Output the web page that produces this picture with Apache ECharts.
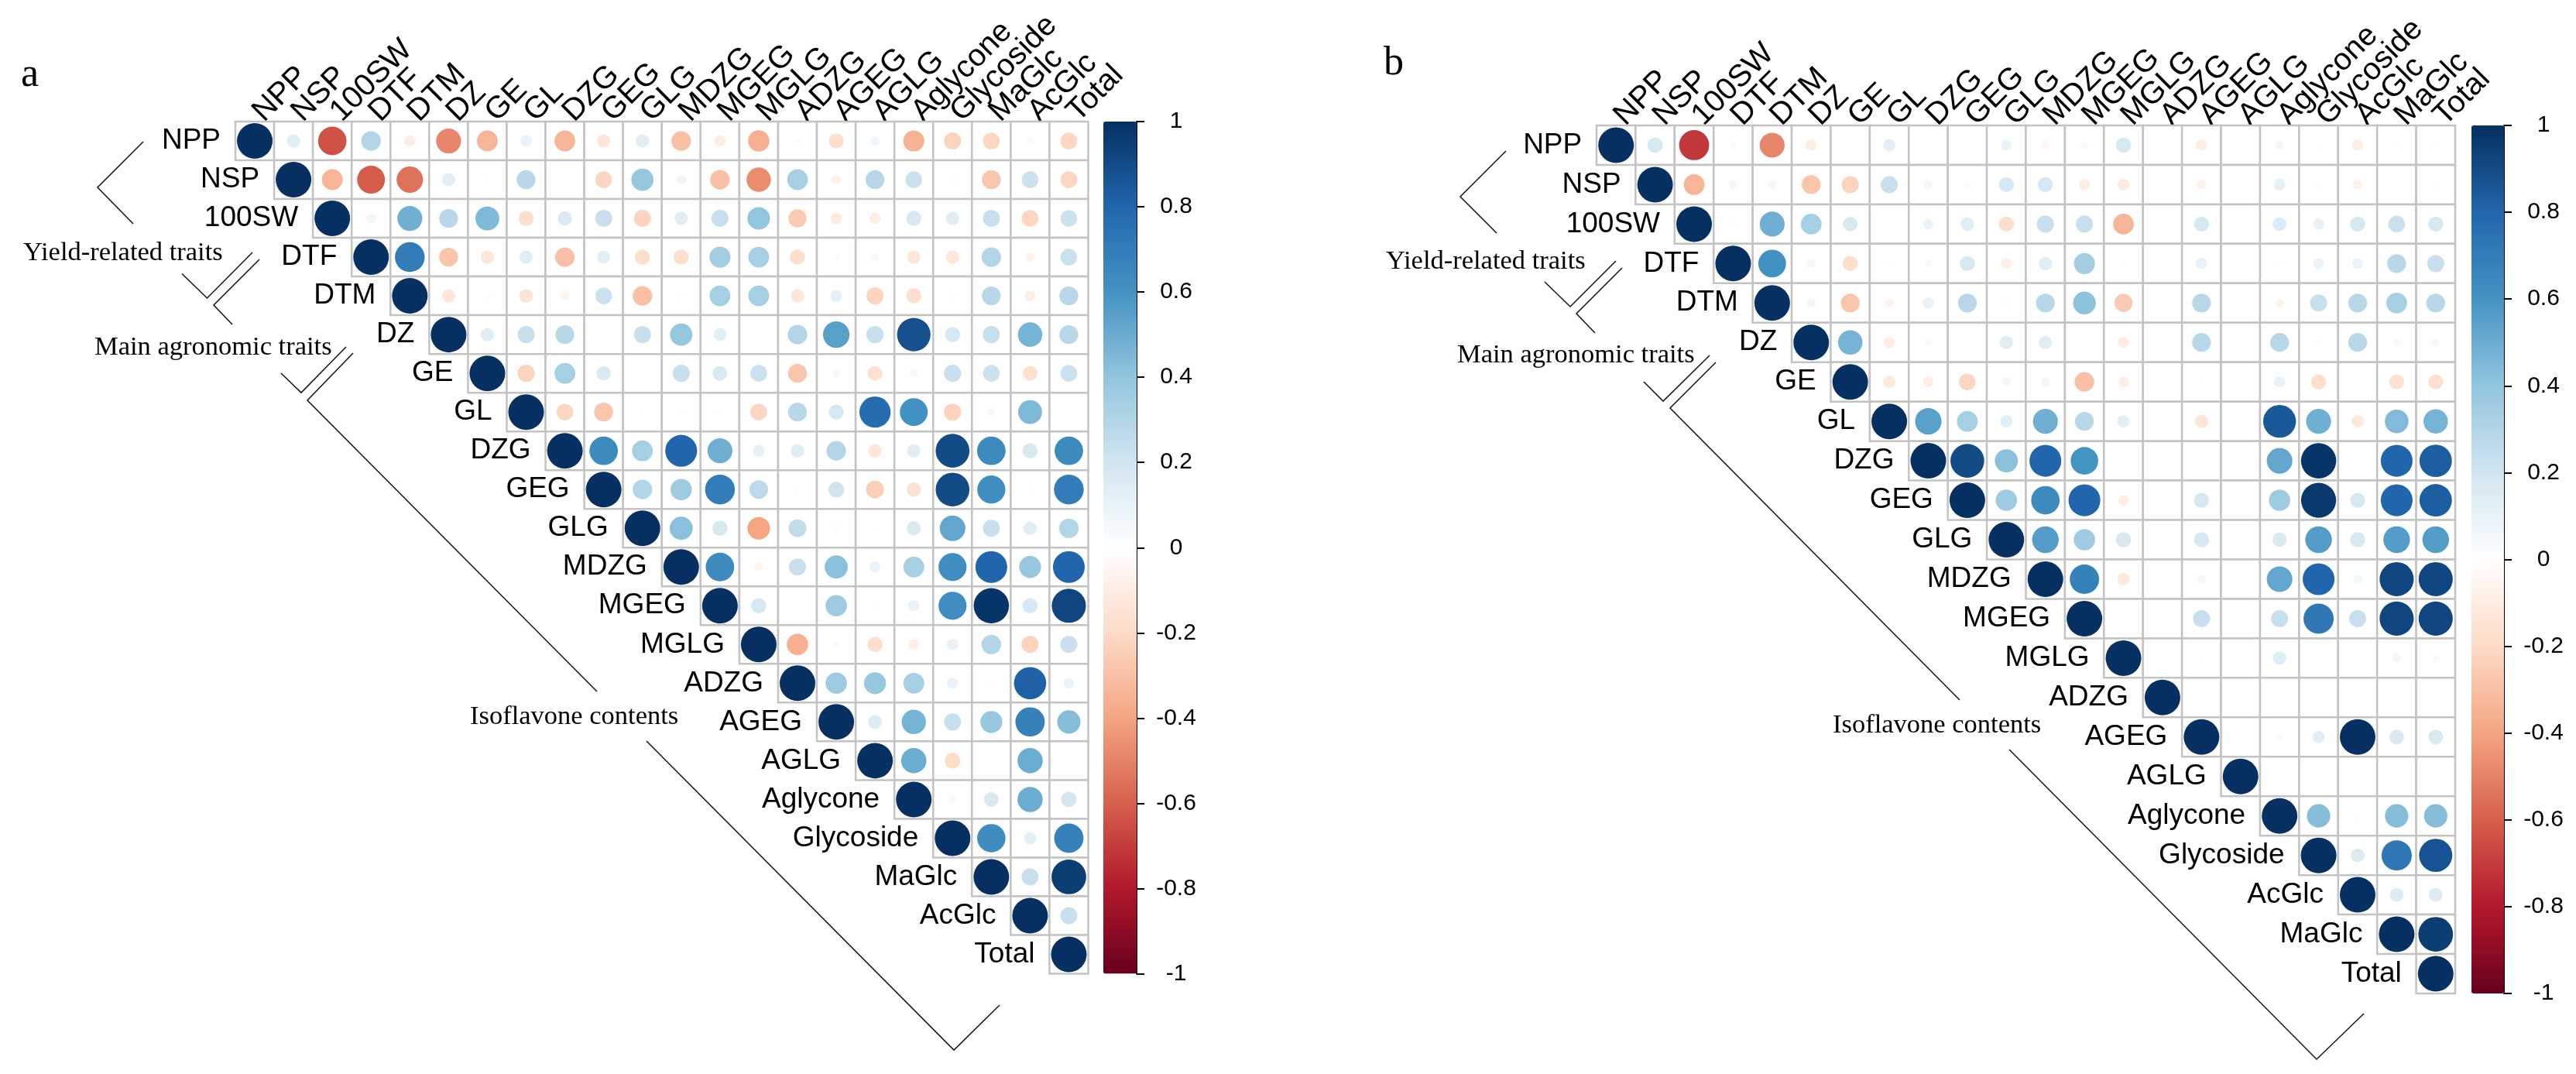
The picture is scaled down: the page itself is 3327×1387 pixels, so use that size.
<!DOCTYPE html>
<html>
<head>
<meta charset="utf-8">
<title>Correlation matrices</title>
<style>html,body{margin:0;padding:0;background:#fff}#chart{width:3327px;height:1387px}</style>
<script src="https://cdn.jsdelivr.net/npm/echarts@6/dist/echarts.min.js"></script>
</head>
<body>
<div id="chart"></div>
<script>
const categoriesA = ['NPP','NSP','100SW','DTF','DTM','DZ','GE','GL','DZG','GEG','GLG','MDZG','MGEG','MGLG','ADZG','AGEG','AGLG','Aglycone','Glycoside','MaGlc','AcGlc','Total'];
const categoriesB = ['NPP','NSP','100SW','DTF','DTM','DZ','GE','GL','DZG','GEG','GLG','MDZG','MGEG','MGLG','ADZG','AGEG','AGLG','Aglycone','Glycoside','AcGlc','MaGlc','Total'];
const colorTicks = [-1,-0.8,-0.6,-0.4,-0.2,0,0.2,0.4,0.6,0.8,1];

// Upper triangle, each row starts at its diagonal cell.
const valuesA = [
 [1,.14,-.64,.30,-.10,-.49,-.34,.10,-.34,-.14,.14,-.30,-.10,-.36,.02,-.18,.07,-.35,-.23,-.22,-.04,-.22],
 [1,-.34,-.61,-.55,.13,-.01,.28,0,-.22,.39,.07,-.30,-.47,.34,-.07,.28,.22,-.01,-.28,.22,-.22],
 [1,.07,.49,.28,.45,-.18,.16,.23,-.23,.14,.23,.40,-.26,-.11,-.10,.18,.14,.23,-.22,.22],
 [1,.70,-.28,-.14,.14,-.30,.13,-.18,-.18,.35,.34,-.18,.03,.05,-.14,-.14,.30,-.07,.22],
 [1,-.14,-.02,-.15,-.06,.22,-.30,-.01,.34,.34,-.14,.11,-.23,-.18,-.01,.28,-.09,.28],
 [1,.14,.23,.28,0,.23,.39,.13,0,.30,.55,.23,.88,.18,.23,.47,.28],
 [1,-.23,.34,.16,.01,.23,.17,.22,-.28,.04,-.17,.05,.23,.22,-.17,.22],
 [1,-.22,-.28,-.01,.01,-.01,-.22,.28,.18,.77,.61,-.23,-.04,.45,.01],
 [1,.64,.34,.80,.49,.11,.14,.30,-.14,.14,.90,.64,.18,.64],
 [1,.30,.36,.70,.27,.01,.20,-.25,-.16,.90,.62,.01,.70],
 [1,.42,.18,-.40,.25,.02,.01,.16,.52,.23,.14,.30],
 [1,.64,-.06,.23,.42,.09,.34,.62,.80,.38,.80],
 [1,.18,.01,.36,-.01,.10,.62,.98,.18,.92],
 [1,-.36,.04,-.18,-.09,.10,.30,-.23,.23],
 [1,.36,.38,.34,.10,.01,.82,.09],
 [1,.15,.47,.23,.38,.68,.43],
 [1,.50,-.19,0,.50,0],
 [1,.04,.17,.50,.19],
 [1,.63,.12,.68],
 [1,.23,.95],
 [1,.23],
 [1]
];
const valuesB = [
 [1,.18,-.71,-.03,-.49,-.10,0,.12,0,0,.09,-.05,.04,.18,0,-.10,0,.06,.01,-.10,.01,.01],
 [1,-.34,.06,.06,-.28,-.23,.23,.06,-.04,.18,.18,-.10,-.11,0,-.07,0,.11,.02,-.07,0,.01],
 [1,-.01,.49,.34,.17,0,.09,.14,-.18,.23,.23,-.34,0,.18,0,.15,.10,.18,.22,.18],
 [1,.61,.06,-.18,.01,.04,.18,-.09,.14,.35,-.02,0,.10,0,.01,.09,.09,.28,.23],
 [1,.06,-.28,-.06,.10,.28,.01,.28,.41,-.26,0,.28,0,-.06,.23,.28,.34,.28],
 [1,.47,-.10,.04,0,.14,.14,0,-.10,0,.28,0,.28,.02,.28,.04,.05],
 [1,-.12,-.09,-.22,-.06,-.06,-.30,-.09,0,-.01,0,.10,-.18,-.01,-.17,-.17],
 [1,.55,.34,.12,.49,.28,.12,0,-.14,0,.85,.49,-.12,.44,.47],
 [1,.90,.42,.80,.60,0,0,0,0,.52,.98,.01,.80,.83],
 [1,.36,.64,.80,-.09,0,.18,0,.36,.97,.18,.80,.83],
 [1,.56,.36,.18,0,.18,0,.16,.56,.18,.56,.56],
 [1,.68,-.12,0,.06,0,.52,.80,.06,.92,.92],
 [1,0,0,.23,0,.23,.72,.23,.92,.92],
 [1,0,.01,0,.14,0,.01,.06,.03],
 [1,0,0,0,0,0,0,0],
 [1,0,-.03,.12,1,.17,.17],
 [1,0,0,0,0,0],
 [1,.43,-.02,.43,.43],
 [1,.15,.72,.87],
 [1,.15,.15],
 [1,.95],
 [1]
];

// Bracket annotations around the row labels.
const bracketsA = [
 [[185,183],[126,242],[172,289]],
 [[326,326],[267.5,385],[235,353.5]],
 [[335,335],[276,394],[300,419]],
 [[447,448],[389,507],[363,482]],
 [[456,456],[397,517],[771,893]],
 [[835,957],[1232,1356],[1291,1298]]
];
const bracketsB = [
 [[1945,195],[1886,254],[1933,301]],
 [[2087,337],[2028,396],[1995,364]],
 [[2095,346],[2036,405],[2060,430]],
 [[2208,459],[2148,518],[2123,493]],
 [[2216,468],[2157,527],[2531,904]],
 [[2595,968],[2992,1368],[3053,1309]]
];
const notes = [
 {t:'a',x:27,y:112,f:52},{t:'b',x:1787,y:97,f:52},
 {t:'Yield-related traits',x:30,y:336,f:34.5},{t:'Main agronomic traits',x:122,y:458,f:34.5},{t:'Isoflavone contents',x:607,y:935,f:34.5},
 {t:'Yield-related traits',x:1790,y:347,f:34.5},{t:'Main agronomic traits',x:1882,y:468,f:34.5},{t:'Isoflavone contents',x:2367,y:946,f:34.5}
];
const palette = ['#67001F','#B2182B','#D6604D','#F4A582','#FDDBC7','#FFFFFF','#D1E5F0','#92C5DE','#4393C3','#2166AC','#053061'];

const FONT = '"Liberation Sans", Arial, sans-serif';
const SERIF = '"Liberation Serif", "Times New Roman", serif';
const panels = [
 {cats:categoriesA, vals:valuesA, grid:{left:304,top:157,width:1101.5,height:1100.5}, bar:{left:1425,top:157,width:43,height:1100.5}},
 {cats:categoriesB, vals:valuesB, grid:{left:2062,top:162,width:1109,height:1121}, bar:{left:3192,top:162,width:42,height:1121}}
];

function triples(vals){
  const out=[];
  vals.forEach((row,r)=>row.forEach((v,k)=>out.push([r+k,r,v])));
  return out;
}
const grids=[],xAxes=[],yAxes=[],series=[],visualMaps=[];
panels.forEach((p,idx)=>{
  const g=grids.length, data=triples(p.vals);
  grids.push(Object.assign({},p.grid,{containLabel:false}));
  xAxes.push({type:'category',gridIndex:g,data:p.cats,position:'top',boundaryGap:true,
    axisLine:{show:false},axisTick:{show:false},splitLine:{show:false},
    axisLabel:{interval:0,rotate:-45,margin:2,padding:[0,0,0,6],fontFamily:FONT,fontSize:40,color:'#000',hideOverlap:false}});
  yAxes.push({type:'category',gridIndex:g,data:p.cats,inverse:true,boundaryGap:true,show:false});
  series.push({type:'custom',xAxisIndex:g,yAxisIndex:g,z:1,silent:true,data:data,encode:{x:0,y:1},
    renderItem:(params,api)=>{
      const c=api.coord([api.value(0),api.value(1)]), s=api.size([1,1]);
      return {type:'rect',shape:{x:c[0]-s[0]/2,y:c[1]-s[1]/2,width:s[0],height:s[1]},
        style:{fill:'#fff',stroke:'#c3c3c3',lineWidth:2.5}};
    }});
  series.push({type:'scatter',xAxisIndex:g,yAxisIndex:g,z:2,silent:true,data:data,symbol:'circle',
    symbolSize:v=>46*Math.sqrt(Math.abs(v[2])),
    itemStyle:{opacity:1},
    label:{show:true,position:'left',distance:21,fontFamily:FONT,fontSize:37,color:'#000',
      formatter:q=>q.value[0]===q.value[1]?p.cats[q.value[0]]:''}});
  visualMaps.push({type:'continuous',seriesIndex:series.length-1,dimension:2,min:-1,max:1,
    left:p.bar.left,top:p.bar.top,itemWidth:p.bar.width,itemHeight:p.bar.height,padding:0,
    calculable:false,hoverLink:false,text:null,showLabel:false,inRange:{color:palette}});
  const b=grids.length;
  grids.push(Object.assign({},p.bar));
  xAxes.push({type:'value',gridIndex:b,show:false,min:0,max:1});
  yAxes.push({type:'value',gridIndex:b,position:'right',min:colorTicks[0],max:colorTicks[colorTicks.length-1],interval:0.2,
    splitLine:{show:false},
    axisLine:{show:true,onZero:false,lineStyle:{color:'#000',width:2}},
    axisTick:{show:true,length:10,lineStyle:{color:'#000',width:2}},
    axisLabel:{show:true,margin:51,align:'center',padding:[14,0,0,0],fontFamily:FONT,fontSize:30,color:'#000',
      formatter:v=>String(Math.round(v*10)/10)}});
});

const graphicEls=[];
bracketsA.concat(bracketsB).forEach(pts=>graphicEls.push({type:'polyline',silent:true,shape:{points:pts},style:{fill:null,stroke:'#1a1a1a',lineWidth:1.6}}));
notes.forEach(n=>graphicEls.push({type:'text',silent:true,x:n.x,y:n.y+Math.round(n.f*0.22),style:{text:n.t,font:n.f+'px '+SERIF,fill:'#000',verticalAlign:'bottom'}}));

const chart=echarts.init(document.getElementById('chart'));
chart.setOption({
  animation:false,backgroundColor:'#fff',
  grid:grids,xAxis:xAxes,yAxis:yAxes,series:series,visualMap:visualMaps,
  graphic:{elements:graphicEls}
});
</script>
</body>
</html>
